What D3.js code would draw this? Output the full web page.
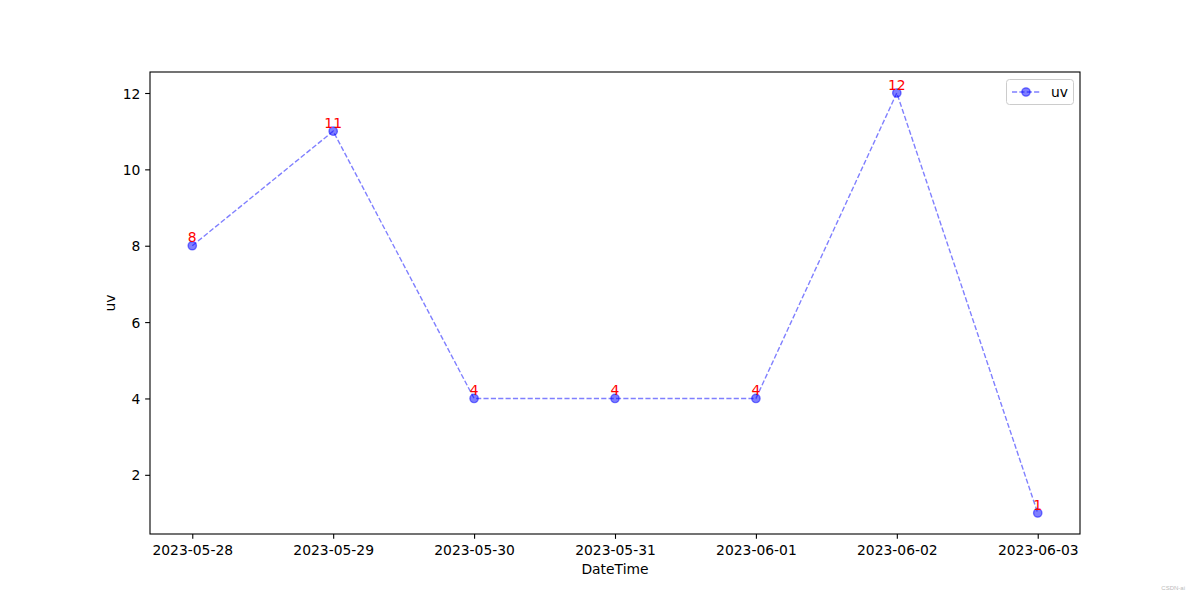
<!DOCTYPE html>
<html><head><meta charset="utf-8">
<script src="https://cdn.jsdelivr.net/npm/d3@7/dist/d3.min.js"></script>
<style>body{margin:0;background:#fff}svg{display:block;font-family:"DejaVu Sans",sans-serif}</style>
</head><body><svg id="c" width="1200" height="600"></svg>
<script>
const dates = ["2023-05-28","2023-05-29","2023-05-30","2023-05-31","2023-06-01","2023-06-02","2023-06-03"];
const uv = [8, 11, 4, 4, 4, 12, 1];
const yTicks = [2, 4, 6, 8, 10, 12];

const FS = "13.89px";
const svg = d3.select("#c");
const L=150, R=1080, T=72, B=534;
const parse = d3.utcParse("%Y-%m-%d");
const xd = dates.map(parse);
const x0 = d3.min(xd).getTime(), x1 = d3.max(xd).getTime();
const xm = (x1-x0)*0.05;
const x = d3.scaleUtc().domain([new Date(x0-xm), new Date(x1+xm)]).range([L,R]);
const ymin = d3.min(uv), ymax = d3.max(uv), ym=(ymax-ymin)*0.05;
const y = d3.scaleLinear().domain([ymin-ym, ymax+ym]).range([B,T]);

const xAxis = d3.axisBottom(x).tickValues(xd).tickFormat(d3.utcFormat("%Y-%m-%d")).tickSize(4.86).tickPadding(4.86);
const gx = svg.append("g").attr("transform",`translate(0,${B})`).call(xAxis);
const yAxis = d3.axisLeft(y).tickValues(yTicks).tickFormat(d3.format("d")).tickSize(4.86).tickPadding(4.86);
const gy = svg.append("g").attr("transform",`translate(${L},0)`).call(yAxis);
[gx,gy].forEach(g=>{g.select(".domain").remove();g.selectAll("text").attr("font-size",FS).attr("fill","#000").attr("font-family","DejaVu Sans");g.selectAll("line").attr("stroke","#000").attr("stroke-width",1.1);});
gx.selectAll("text").attr("dy",null).attr("y",21);
gy.selectAll("text").attr("dy","0.36em");

svg.append("rect").attr("x",L).attr("y",T).attr("width",R-L).attr("height",B-T).attr("fill","none").attr("stroke","#000").attr("stroke-width",1.1);

svg.append("text").attr("x",(L+R)/2).attr("y",574).attr("text-anchor","middle").attr("font-size",FS).text("DateTime");
svg.append("text").attr("transform",`translate(115,${(T+B)/2}) rotate(-90)`).attr("text-anchor","middle").attr("font-size",FS).text("uv");

const pts = xd.map((d,i)=>({d, v:uv[i]}));
const line = d3.line().x(p=>x(p.d)).y(p=>y(p.v));
svg.append("path").datum(pts).attr("d",line).attr("fill","none").attr("stroke","blue").attr("stroke-opacity",0.5).attr("stroke-width",1.39).attr("stroke-dasharray","5.14,2.22");
svg.selectAll("circle.m").data(pts).enter().append("circle").attr("cx",p=>x(p.d)).attr("cy",p=>y(p.v)).attr("r",4.17).attr("fill","blue").attr("fill-opacity",0.5).attr("stroke","blue").attr("stroke-opacity",0.5).attr("stroke-width",1.39);
svg.selectAll("text.lab").data(pts).enter().append("text").attr("x",p=>x(p.d)).attr("y",p=>y(p.v)-3.3).attr("text-anchor","middle").attr("fill","red").attr("font-size",FS).text(p=>p.v);

// legend
const lg = svg.append("g");
lg.append("rect").attr("x",1006.5).attr("y",79.5).attr("width",67).attr("height",25).attr("rx",3).attr("fill","#fff").attr("fill-opacity",0.8).attr("stroke","#ccc").attr("stroke-width",1);
lg.append("line").attr("x1",1012).attr("x2",1040).attr("y1",92).attr("y2",92).attr("stroke","blue").attr("stroke-opacity",0.5).attr("stroke-width",1.39).attr("stroke-dasharray","5.14,2.22");
lg.append("circle").attr("cx",1026).attr("cy",92).attr("r",4.17).attr("fill","blue").attr("fill-opacity",0.5).attr("stroke","blue").attr("stroke-opacity",0.5).attr("stroke-width",1.39);
lg.append("text").attr("x",1051).attr("y",97).attr("font-size",FS).text("uv");

svg.append("text").attr("x",1185).attr("y",590).attr("text-anchor","end").attr("font-size","6px").attr("fill","#bbb").attr("font-family","Liberation Sans").text("CSDN-ai");
</script></body></html>
